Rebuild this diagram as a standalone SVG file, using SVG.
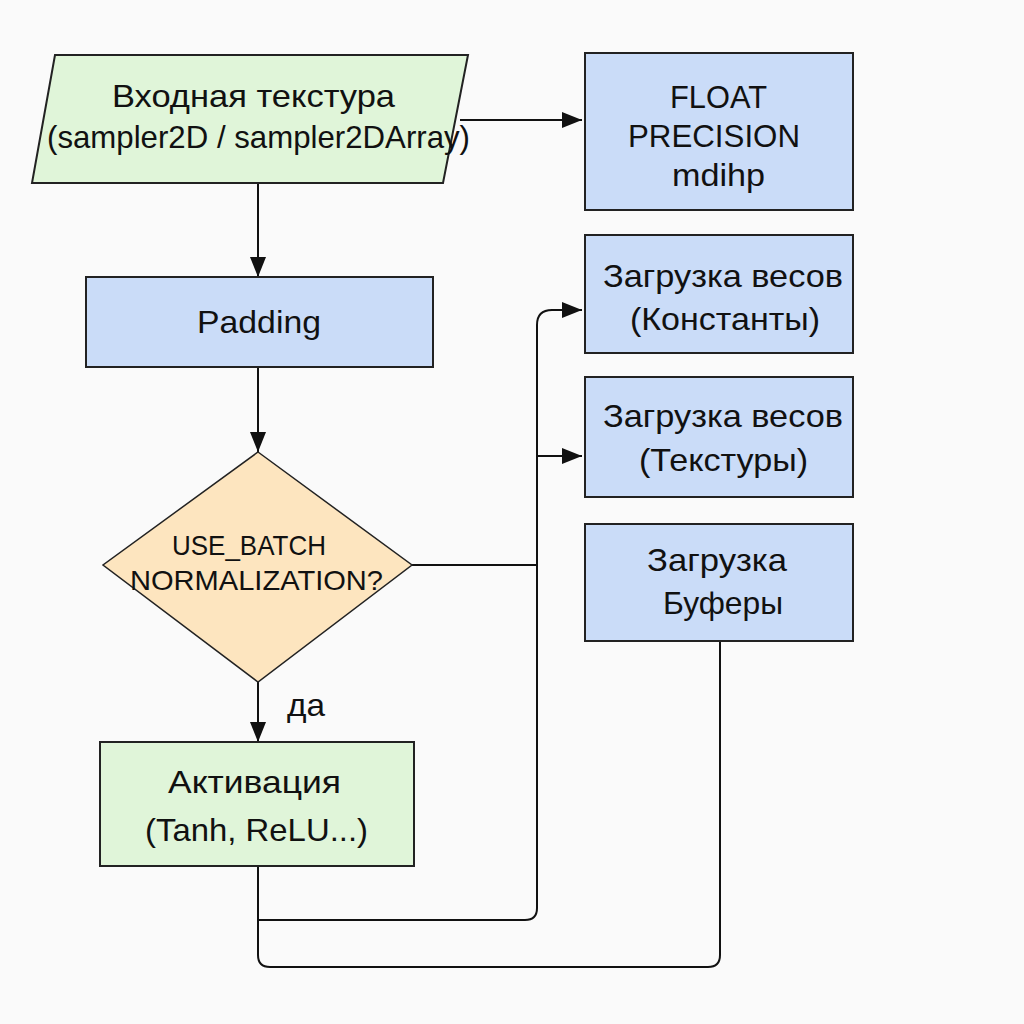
<svg xmlns="http://www.w3.org/2000/svg" width="1024" height="1024" viewBox="0 0 1024 1024">
<defs>
<marker id="ah2" viewBox="0 0 20 16" refX="20" refY="8" markerWidth="20" markerHeight="16" markerUnits="userSpaceOnUse" orient="auto">
<path d="M0,0 L20,8 L0,16 Z" fill="#111"/>
</marker>
<style>
.t{font-family:"Liberation Sans",Arial,sans-serif;fill:#111;text-anchor:middle;font-size:32px}
.d{font-size:28px}
.blue{fill:#cadcf8;stroke:#222;stroke-width:2}
.green{fill:#e0f5d9;stroke:#222;stroke-width:2}
.dia{fill:#fde5bf;stroke:#222;stroke-width:1.5}
.c{fill:none;stroke:#111;stroke-width:2}
</style>
</defs>
<rect width="1024" height="1024" fill="#fafafa"/>
<g id="connectors">
<path class="c" d="M258,183 V277" marker-end="url(#ah2)"/>
<path class="c" d="M460,120 H582" marker-end="url(#ah2)"/>
<path class="c" d="M258,367 V452" marker-end="url(#ah2)"/>
<path class="c" d="M258,682 V742" marker-end="url(#ah2)"/>
<path class="c" d="M412,565 H537"/>
<path class="c" d="M537,908 V325 Q537,310 552,310 H582" marker-end="url(#ah2)"/>
<path class="c" d="M537,456 H582" marker-end="url(#ah2)"/>
<path class="c" d="M258,866 V920 H525 Q537,920 537,908"/>
<path class="c" d="M258,920 V955 Q258,967 270,967 H708 Q720,967 720,955 V641"/>
<text class="t" x="306" y="716" textLength="38" lengthAdjust="spacingAndGlyphs">да</text>
</g>
<g id="input">
<polygon class="green" points="55,55 468,55 443,183 32,183"/>
<text class="t" x="253.5" y="107" textLength="283" lengthAdjust="spacingAndGlyphs">Входная текстура</text>
<text class="t" x="258.5" y="148" textLength="423" lengthAdjust="spacingAndGlyphs">(sampler2D / sampler2DArray)</text>
</g>
<g id="float">
<rect class="blue" x="585" y="53" width="268" height="157"/>
<text class="t" x="718.5" y="108" textLength="97" lengthAdjust="spacingAndGlyphs">FLOAT</text>
<text class="t" x="714" y="147" textLength="172" lengthAdjust="spacingAndGlyphs">PRECISION</text>
<text class="t" x="718.5" y="186" textLength="93" lengthAdjust="spacingAndGlyphs">mdihp</text>
</g>
<g id="padding">
<rect class="blue" x="86" y="277" width="347" height="90"/>
<text class="t" x="259" y="333" textLength="124" lengthAdjust="spacingAndGlyphs">Padding</text>
</g>
<g id="decision">
<polygon class="dia" points="258,452 412,565 258,682 103,565"/>
<text class="t d" x="249" y="555" textLength="154" lengthAdjust="spacingAndGlyphs">USE_BATCH</text>
<text class="t d" x="256.5" y="590" textLength="253" lengthAdjust="spacingAndGlyphs">NORMALIZATION?</text>
</g>
<g id="activation">
<rect class="green" x="100" y="742" width="314" height="124"/>
<text class="t" x="254.5" y="793" textLength="173" lengthAdjust="spacingAndGlyphs">Активация</text>
<text class="t" x="256.5" y="841" textLength="223" lengthAdjust="spacingAndGlyphs">(Tanh, ReLU...)</text>
</g>
<g id="w-const">
<rect class="blue" x="585" y="235" width="268" height="118"/>
<text class="t" x="723" y="287" textLength="240" lengthAdjust="spacingAndGlyphs">Загрузка весов</text>
<text class="t" x="725" y="330" textLength="190" lengthAdjust="spacingAndGlyphs">(Константы)</text>
</g>
<g id="w-tex">
<rect class="blue" x="585" y="377" width="268" height="120"/>
<text class="t" x="723" y="427" textLength="240" lengthAdjust="spacingAndGlyphs">Загрузка весов</text>
<text class="t" x="723.5" y="471" textLength="169" lengthAdjust="spacingAndGlyphs">(Текстуры)</text>
</g>
<g id="buffers">
<rect class="blue" x="585" y="524" width="268" height="117"/>
<text class="t" x="717" y="571" textLength="140" lengthAdjust="spacingAndGlyphs">Загрузка</text>
<text class="t" x="723" y="614" textLength="120" lengthAdjust="spacingAndGlyphs">Буферы</text>
</g>
</svg>
